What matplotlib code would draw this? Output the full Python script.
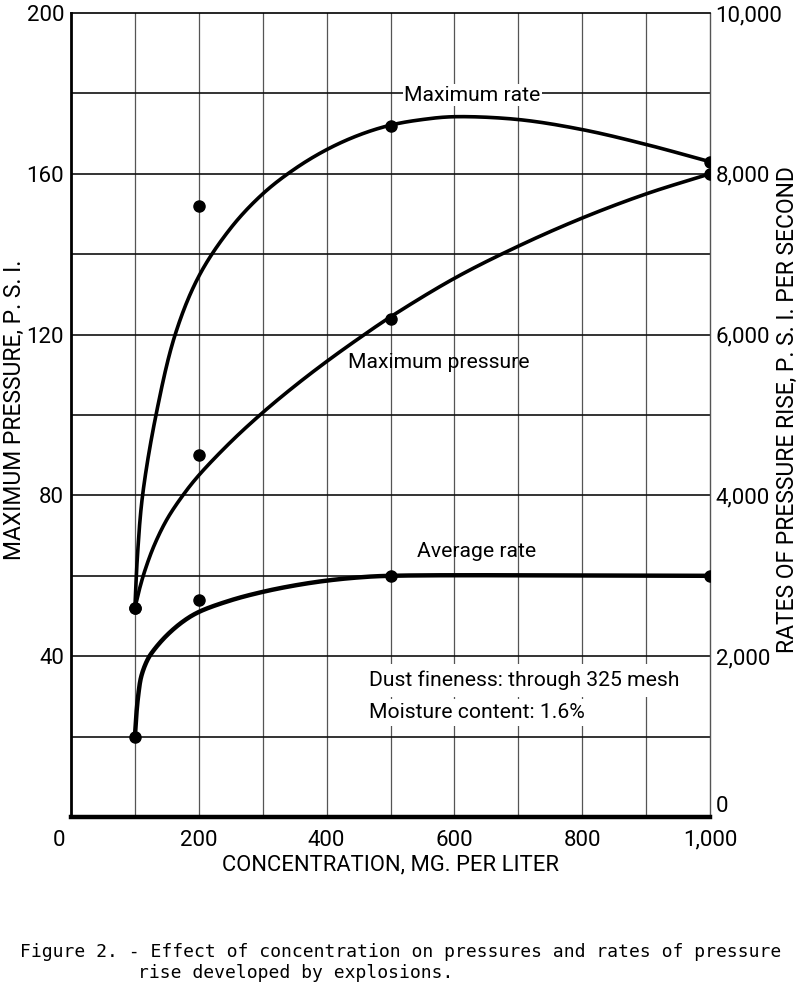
import numpy as np
import matplotlib
matplotlib.use("Agg")
import matplotlib.pyplot as plt
from matplotlib.ticker import FuncFormatter
import matplotlib.transforms as mtransforms

# ---------------- data ----------------
conc = [100, 200, 500, 1000]                     # mg per liter
max_pressure = [52, 90, 124, 160]                # psi (left axis)
max_rate = [2600, 7600, 8600, 8150]              # psi/s (right axis)
avg_rate = [1000, 2700, 3000, 3000]              # psi/s (right axis)

# hand-drawn fitted curves
mp_curve_x = [100, 106, 115, 130, 150, 175, 200, 250, 300, 350, 400, 450, 500, 600, 700, 800, 900, 1000]
mp_curve_y = [52, 56, 61, 67.5, 74, 80, 85, 93.3, 100.6, 107.2, 113.3, 119, 124.4, 134, 142, 149, 155, 160]

mr_curve_x = [100, 104, 112, 133, 163, 200, 250, 300, 350, 400, 450, 500, 550, 600, 700, 800, 900, 1000]
mr_curve_y = [2600, 3250, 4000, 5000, 6000, 6725, 7325, 7750, 8060, 8300, 8480, 8605, 8675, 8710,
              8675, 8550, 8365, 8150]

ar_curve_x = [100, 102, 105, 110, 120, 130, 150, 175, 200, 250, 300, 350, 400, 450, 500, 1000]
ar_curve_y = [1000, 1250, 1500, 1750, 1960, 2080, 2260, 2430, 2550, 2695, 2800, 2880, 2940, 2980, 3000, 3000]

x_ticks = [0, 200, 400, 600, 800, 1000]
left_ticks = [40, 80, 120, 160, 200]
right_ticks = [0, 2000, 4000, 6000, 8000, 10000]

# ---------------- helpers ----------------
def smooth(xs, ys, xspan, yspan, n=40, alpha=0.5):
    """Centripetal Catmull-Rom spline through traced points (normalised coordinates)."""
    P = np.column_stack([np.asarray(xs, float) / xspan, np.asarray(ys, float) / yspan])
    P = np.vstack([2 * P[0] - P[1], P, 2 * P[-1] - P[-2]])
    out = []
    for i in range(1, len(P) - 2):
        p0, p1, p2, p3 = P[i - 1], P[i], P[i + 1], P[i + 2]
        t0 = 0.0
        t1 = t0 + np.linalg.norm(p1 - p0) ** alpha
        t2 = t1 + np.linalg.norm(p2 - p1) ** alpha
        t3 = t2 + np.linalg.norm(p3 - p2) ** alpha
        t = np.linspace(t1, t2, n, endpoint=False)[:, None]
        a1 = (t1 - t) / (t1 - t0) * p0 + (t - t0) / (t1 - t0) * p1
        a2 = (t2 - t) / (t2 - t1) * p1 + (t - t1) / (t2 - t1) * p2
        a3 = (t3 - t) / (t3 - t2) * p2 + (t - t2) / (t3 - t2) * p3
        b1 = (t2 - t) / (t2 - t0) * a1 + (t - t0) / (t2 - t0) * a2
        b2 = (t3 - t) / (t3 - t1) * a2 + (t - t1) / (t3 - t1) * a3
        c = (t2 - t) / (t2 - t1) * b1 + (t - t1) / (t2 - t1) * b2
        out.append(c)
    out.append(P[-2][None, :])
    out = np.vstack(out)
    return out[:, 0] * xspan, out[:, 1] * yspan

FONT = ['Roboto', 'DejaVu Sans']

fig = plt.figure(figsize=(8.0, 9.99), dpi=100)
ax = fig.add_axes([71 / 800, 1 - 817 / 999, 639 / 800, (817 - 13) / 999])
ax2 = ax.twinx()
ax.set_zorder(2)
ax.patch.set_visible(False)
ax2.set_zorder(1)

ax.set_xlim(0, 1000)
ax.set_ylim(0, 200)
ax2.set_ylim(0, 10000)

# grid
for xv in range(100, 1000, 100):
    ax.axvline(xv, color='#555555', lw=0.9, zorder=1)
for yv in range(20, 200, 20):
    ax.axhline(yv, color='#111111', lw=1.2, zorder=2)

# curves
lw = 2.6
sx, sy = smooth(mp_curve_x, mp_curve_y, 1000, 200)
ax.plot(sx, sy, color='black', lw=lw, solid_capstyle='round', zorder=3)
ax.plot(conc, max_pressure, 'o', color='black', ms=8, zorder=4)

# rate series are in rate units, converted to the shared vertical scale of the twin axis
to_left = lambda v: np.asarray(v, float) * 200 / 10000
sx, sy = smooth(mr_curve_x, mr_curve_y, 1000, 10000)
ax.plot(sx, to_left(sy), color='black', lw=lw, solid_capstyle='round', zorder=3)
ax.plot(conc, to_left(max_rate), 'o', color='black', ms=8, zorder=4)

sx, sy = smooth(ar_curve_x, ar_curve_y, 1000, 10000)
ax.plot(sx, to_left(sy), color='black', lw=lw + 0.6, solid_capstyle='round', zorder=3)
ax.plot(conc, to_left(avg_rate), 'o', color='black', ms=8, zorder=4)

# annotations
tkw = dict(family=FONT, fontsize=15.2, color='black')
ax.text(628, 179.5, 'Maximum rate', ha='center', va='center', zorder=5,
        bbox=dict(facecolor='white', edgecolor='none', pad=1), **tkw)
ax.text(576, 113, 'Maximum pressure', ha='center', va='center', zorder=5, **tkw)
ax.text(634, 66, 'Average rate', ha='center', va='center', zorder=5, **tkw)
ax.text(466, 34, 'Dust fineness: through 325 mesh', ha='left', va='center', zorder=1.5,
        bbox=dict(facecolor='white', edgecolor='none', pad=5), **tkw)
ax.text(466, 26, 'Moisture content: 1.6%', ha='left', va='center', zorder=1.5,
        bbox=dict(facecolor='white', edgecolor='none', pad=3), **tkw)

# ticks
ax.set_xticks(x_ticks)
ax.xaxis.set_major_formatter(FuncFormatter(lambda v, p: f"{int(v):,}"))
ax.set_yticks(left_ticks)
ax2.set_yticks(right_ticks)
ax2.yaxis.set_major_formatter(FuncFormatter(lambda v, p: f"{int(v):,}"))
ax.tick_params(axis='both', length=0, labelsize=16)
ax.tick_params(axis='x', pad=9)
ax.tick_params(axis='y', pad=5)
ax2.tick_params(axis='y', length=0, labelsize=16, pad=4)
for lab in ax.get_xticklabels() + ax.get_yticklabels() + ax2.get_yticklabels():
    lab.set_family(FONT)

# shift x "0" left and right-axis "0" up
fig.canvas.draw()
xl = ax.get_xticklabels()
xl[0].set_transform(xl[0].get_transform() + mtransforms.ScaledTranslation(-0.12, 0, fig.dpi_scale_trans))
rl = ax2.get_yticklabels()
rl[0].set_va('bottom')

ax.set_xlabel('CONCENTRATION, MG. PER LITER', family=FONT, fontsize=15.8, va='center')
ax.xaxis.set_label_coords(0.5, (817 - 865) / 804)
ax.set_ylabel('MAXIMUM PRESSURE, P. S. I.', family=FONT, fontsize=16.5, va='center')
ax.yaxis.set_label_coords((14 - 71) / 639, (817 - 410) / 804)
ax2.set_ylabel('RATES OF PRESSURE RISE, P. S. I. PER SECOND', family=FONT, fontsize=16.5,
               rotation=90, va='center')
ax2.yaxis.set_label_coords((787 - 71) / 639, (817 - 410) / 804)

# spines
ax.spines['left'].set_linewidth(2.0)
ax.spines['bottom'].set_linewidth(3.2)
ax.spines['top'].set_linewidth(1.2)
ax.spines['right'].set_linewidth(1.0)
ax.spines['right'].set_color('#555555')
for s in ['left', 'bottom', 'top', 'right']:
    ax2.spines[s].set_visible(False)

# caption
cap_kw = dict(family=['DejaVu Sans Mono'], fontsize=13, color='black')
fig.text(20 / 800, 1 - 952 / 999, 'Figure 2. - Effect of concentration on pressures and rates of pressure',
         ha='left', va='center', **cap_kw)
fig.text(138 / 800, 1 - 973 / 999, 'rise developed by explosions.', ha='left', va='center', **cap_kw)

fig.savefig('out.png', dpi=100, facecolor='white')
